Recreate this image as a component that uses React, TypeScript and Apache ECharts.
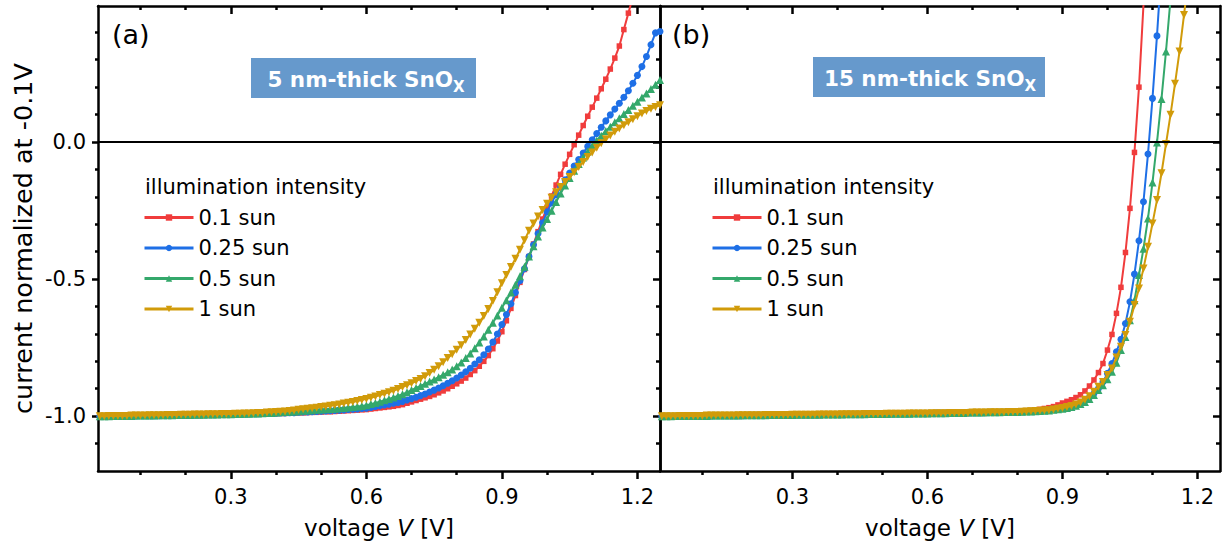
import React, { useEffect, useRef } from "react";
import * as echarts from "echarts";

// ---------- data ----------
const voltage = [
  0.01, 0.02, 0.03, 0.04, 0.05, 0.06, 0.07, 0.08, 0.09, 0.10,
  0.11, 0.12, 0.13, 0.14, 0.15, 0.16, 0.17, 0.18, 0.19, 0.20,
  0.21, 0.22, 0.23, 0.24, 0.25, 0.26, 0.27, 0.28, 0.29, 0.30,
  0.31, 0.32, 0.33, 0.34, 0.35, 0.36, 0.37, 0.38, 0.39, 0.40,
  0.41, 0.42, 0.43, 0.44, 0.45, 0.46, 0.47, 0.48, 0.49, 0.50,
  0.51, 0.52, 0.53, 0.54, 0.55, 0.56, 0.57, 0.58, 0.59, 0.60,
  0.61, 0.62, 0.63, 0.64, 0.65, 0.66, 0.67, 0.68, 0.69, 0.70,
  0.71, 0.72, 0.73, 0.74, 0.75, 0.76, 0.77, 0.78, 0.79, 0.80,
  0.81, 0.82, 0.83, 0.84, 0.85, 0.86, 0.87, 0.88, 0.89, 0.90,
  0.91, 0.92, 0.93, 0.94, 0.95, 0.96, 0.97, 0.98, 0.99, 1.00,
  1.01, 1.02, 1.03, 1.04, 1.05, 1.06, 1.07, 1.08, 1.09, 1.10,
  1.11, 1.12, 1.13, 1.14, 1.15, 1.16, 1.17, 1.18, 1.19, 1.20,
  1.21, 1.22, 1.23, 1.24, 1.25,
];

const seriesNames = ["0.1 sun", "0.25 sun", "0.5 sun", "1 sun"];

// panel (a): 5 nm-thick SnOx
const thin01 = [
  -1.000, -1.000, -1.000, -1.000, -0.999, -0.999, -0.999, -0.999, -0.999, -0.999,
  -0.999, -0.998, -0.998, -0.998, -0.998, -0.998, -0.998, -0.997, -0.997, -0.997,
  -0.997, -0.997, -0.996, -0.996, -0.996, -0.996, -0.995, -0.995, -0.995, -0.995,
  -0.994, -0.994, -0.994, -0.993, -0.993, -0.993, -0.992, -0.992, -0.991, -0.991,
  -0.990, -0.990, -0.989, -0.989, -0.988, -0.988, -0.987, -0.986, -0.986, -0.985,
  -0.984, -0.984, -0.983, -0.982, -0.981, -0.980, -0.979, -0.978, -0.977, -0.976,
  -0.974, -0.972, -0.970, -0.968, -0.966, -0.964, -0.961, -0.958, -0.953, -0.948,
  -0.943, -0.938, -0.933, -0.928, -0.922, -0.915, -0.908, -0.900, -0.891, -0.882,
  -0.872, -0.861, -0.848, -0.834, -0.818, -0.800, -0.779, -0.754, -0.726, -0.692,
  -0.652, -0.607, -0.560, -0.512, -0.465, -0.418, -0.372, -0.327, -0.281, -0.238,
  -0.197, -0.157, -0.118, -0.081, -0.045, -0.010, 0.025, 0.060, 0.094, 0.127,
  0.160, 0.194, 0.229, 0.266, 0.306, 0.350, 0.410, 0.470, 0.530, 0.590,
];
const thin025 = [
  -1.000, -1.000, -1.000, -0.999, -0.999, -0.999, -0.999, -0.999, -0.999, -0.998,
  -0.998, -0.998, -0.998, -0.998, -0.997, -0.997, -0.997, -0.997, -0.997, -0.996,
  -0.996, -0.996, -0.996, -0.995, -0.995, -0.995, -0.994, -0.994, -0.994, -0.993,
  -0.993, -0.993, -0.992, -0.992, -0.991, -0.991, -0.990, -0.990, -0.989, -0.989,
  -0.988, -0.988, -0.987, -0.987, -0.986, -0.985, -0.985, -0.984, -0.983, -0.982,
  -0.981, -0.980, -0.979, -0.978, -0.977, -0.976, -0.975, -0.974, -0.972, -0.971,
  -0.968, -0.965, -0.962, -0.959, -0.956, -0.953, -0.950, -0.946, -0.941, -0.936,
  -0.931, -0.925, -0.919, -0.912, -0.905, -0.897, -0.889, -0.880, -0.871, -0.861,
  -0.850, -0.838, -0.825, -0.810, -0.794, -0.776, -0.755, -0.730, -0.700, -0.666,
  -0.629, -0.590, -0.549, -0.506, -0.462, -0.418, -0.375, -0.334, -0.295, -0.255,
  -0.222, -0.192, -0.164, -0.138, -0.113, -0.088, -0.064, -0.040, -0.016, 0.008,
  0.031, 0.054, 0.077, 0.099, 0.120, 0.141, 0.163, 0.187, 0.214, 0.243,
  0.275, 0.312, 0.355, 0.398, 0.403,
];
const thin05 = [
  -1.000, -1.000, -1.000, -0.999, -0.999, -0.999, -0.999, -0.999, -0.998, -0.998,
  -0.998, -0.998, -0.998, -0.997, -0.997, -0.997, -0.997, -0.996, -0.996, -0.996,
  -0.996, -0.995, -0.995, -0.995, -0.994, -0.994, -0.994, -0.993, -0.993, -0.993,
  -0.992, -0.992, -0.991, -0.991, -0.990, -0.990, -0.989, -0.988, -0.988, -0.987,
  -0.986, -0.985, -0.984, -0.983, -0.982, -0.980, -0.979, -0.978, -0.977, -0.976,
  -0.975, -0.974, -0.973, -0.971, -0.970, -0.968, -0.967, -0.965, -0.963, -0.960,
  -0.956, -0.952, -0.947, -0.942, -0.937, -0.932, -0.926, -0.920, -0.913, -0.905,
  -0.897, -0.890, -0.882, -0.874, -0.866, -0.858, -0.849, -0.840, -0.830, -0.818,
  -0.804, -0.788, -0.771, -0.752, -0.731, -0.709, -0.685, -0.659, -0.633, -0.605,
  -0.577, -0.549, -0.521, -0.490, -0.455, -0.418, -0.380, -0.345, -0.312, -0.281,
  -0.251, -0.219, -0.188, -0.159, -0.131, -0.105, -0.080, -0.057, -0.035, -0.014,
  0.005, 0.023, 0.040, 0.056, 0.072, 0.087, 0.102, 0.117, 0.132, 0.147,
  0.162, 0.177, 0.193, 0.209, 0.226,
];
const thin1 = [
  -1.000, -1.000, -0.999, -0.999, -0.999, -0.999, -0.999, -0.998, -0.998, -0.998,
  -0.998, -0.997, -0.997, -0.997, -0.997, -0.996, -0.996, -0.996, -0.995, -0.995,
  -0.995, -0.994, -0.994, -0.994, -0.993, -0.993, -0.993, -0.992, -0.992, -0.992,
  -0.991, -0.991, -0.990, -0.990, -0.989, -0.988, -0.988, -0.987, -0.986, -0.985,
  -0.984, -0.983, -0.981, -0.979, -0.977, -0.975, -0.973, -0.971, -0.969, -0.967,
  -0.965, -0.962, -0.960, -0.957, -0.954, -0.951, -0.948, -0.945, -0.941, -0.937,
  -0.933, -0.928, -0.923, -0.918, -0.913, -0.907, -0.901, -0.894, -0.887, -0.880,
  -0.872, -0.864, -0.854, -0.843, -0.831, -0.818, -0.803, -0.788, -0.774, -0.758,
  -0.741, -0.722, -0.702, -0.681, -0.659, -0.635, -0.609, -0.580, -0.548, -0.515,
  -0.485, -0.456, -0.426, -0.393, -0.358, -0.324, -0.297, -0.272, -0.248, -0.225,
  -0.203, -0.183, -0.164, -0.146, -0.128, -0.110, -0.091, -0.073, -0.055, -0.038,
  -0.021, -0.005, 0.010, 0.024, 0.037, 0.049, 0.061, 0.072, 0.083, 0.094,
  0.104, 0.113, 0.121, 0.128, 0.134,
];

// panel (b): 15 nm-thick SnOx
const thick01 = [
  -1.000, -1.000, -1.000, -1.000, -1.000, -0.999, -0.999, -0.999, -0.999, -0.999,
  -0.999, -0.999, -0.999, -0.998, -0.998, -0.998, -0.998, -0.998, -0.998, -0.998,
  -0.997, -0.997, -0.997, -0.997, -0.997, -0.997, -0.996, -0.996, -0.996, -0.996,
  -0.996, -0.995, -0.995, -0.995, -0.995, -0.995, -0.995, -0.994, -0.994, -0.994,
  -0.994, -0.994, -0.994, -0.994, -0.993, -0.993, -0.993, -0.993, -0.993, -0.992,
  -0.992, -0.992, -0.992, -0.991, -0.991, -0.991, -0.991, -0.990, -0.990, -0.990,
  -0.990, -0.990, -0.989, -0.989, -0.989, -0.988, -0.988, -0.988, -0.987, -0.987,
  -0.987, -0.986, -0.986, -0.985, -0.985, -0.984, -0.984, -0.983, -0.983, -0.982,
  -0.981, -0.980, -0.979, -0.977, -0.975, -0.972, -0.969, -0.965, -0.959, -0.952,
  -0.946, -0.940, -0.932, -0.922, -0.908, -0.890, -0.868, -0.841, -0.808, -0.759,
  -0.702, -0.625, -0.530, -0.403, -0.242, -0.038, 0.200, 0.500,
];
const thick025 = [
  -1.000, -1.000, -1.000, -1.000, -0.999, -0.999, -0.999, -0.999, -0.999, -0.999,
  -0.999, -0.999, -0.998, -0.998, -0.998, -0.998, -0.998, -0.998, -0.998, -0.997,
  -0.997, -0.997, -0.997, -0.997, -0.997, -0.996, -0.996, -0.996, -0.996, -0.996,
  -0.996, -0.995, -0.995, -0.995, -0.995, -0.995, -0.994, -0.994, -0.994, -0.994,
  -0.994, -0.994, -0.993, -0.993, -0.993, -0.993, -0.993, -0.992, -0.992, -0.992,
  -0.992, -0.992, -0.991, -0.991, -0.991, -0.991, -0.990, -0.990, -0.990, -0.990,
  -0.990, -0.989, -0.989, -0.989, -0.989, -0.988, -0.988, -0.988, -0.988, -0.987,
  -0.987, -0.987, -0.987, -0.986, -0.986, -0.986, -0.986, -0.985, -0.985, -0.985,
  -0.984, -0.983, -0.982, -0.981, -0.980, -0.979, -0.977, -0.975, -0.973, -0.970,
  -0.967, -0.963, -0.958, -0.951, -0.942, -0.931, -0.917, -0.899, -0.875, -0.844,
  -0.808, -0.765, -0.720, -0.662, -0.583, -0.482, -0.360, -0.218, -0.044, 0.159,
  0.387, 0.640,
];
const thick05 = [
  -1.000, -1.000, -1.000, -0.999, -0.999, -0.999, -0.999, -0.999, -0.999, -0.999,
  -0.999, -0.998, -0.998, -0.998, -0.998, -0.998, -0.998, -0.998, -0.997, -0.997,
  -0.997, -0.997, -0.997, -0.997, -0.996, -0.996, -0.996, -0.996, -0.996, -0.996,
  -0.995, -0.995, -0.995, -0.995, -0.995, -0.995, -0.994, -0.994, -0.994, -0.994,
  -0.994, -0.993, -0.993, -0.993, -0.993, -0.993, -0.992, -0.992, -0.992, -0.992,
  -0.992, -0.991, -0.991, -0.991, -0.991, -0.991, -0.990, -0.990, -0.990, -0.990,
  -0.989, -0.989, -0.989, -0.989, -0.988, -0.988, -0.988, -0.988, -0.987, -0.987,
  -0.987, -0.987, -0.986, -0.986, -0.986, -0.986, -0.985, -0.985, -0.985, -0.985,
  -0.984, -0.983, -0.983, -0.982, -0.981, -0.980, -0.979, -0.977, -0.975, -0.973,
  -0.970, -0.967, -0.962, -0.956, -0.948, -0.937, -0.923, -0.905, -0.887, -0.865,
  -0.838, -0.805, -0.759, -0.711, -0.650, -0.577, -0.485, -0.389, -0.279, -0.148,
  -0.002, 0.157, 0.330, 0.520, 0.720,
];
const thick1 = [
  -1.000, -1.000, -1.000, -1.000, -0.999, -0.999, -0.999, -0.999, -0.999, -0.999,
  -0.998, -0.998, -0.998, -0.998, -0.998, -0.998, -0.998, -0.997, -0.997, -0.997,
  -0.997, -0.997, -0.997, -0.996, -0.996, -0.996, -0.996, -0.996, -0.996, -0.995,
  -0.995, -0.995, -0.995, -0.995, -0.995, -0.994, -0.994, -0.994, -0.994, -0.994,
  -0.993, -0.993, -0.993, -0.993, -0.993, -0.992, -0.992, -0.992, -0.992, -0.992,
  -0.991, -0.991, -0.991, -0.991, -0.991, -0.990, -0.990, -0.990, -0.990, -0.990,
  -0.989, -0.989, -0.989, -0.989, -0.988, -0.988, -0.988, -0.988, -0.988, -0.987,
  -0.987, -0.987, -0.987, -0.986, -0.986, -0.986, -0.986, -0.985, -0.985, -0.985,
  -0.984, -0.983, -0.982, -0.981, -0.980, -0.979, -0.978, -0.976, -0.973, -0.970,
  -0.967, -0.963, -0.957, -0.950, -0.940, -0.927, -0.911, -0.893, -0.875, -0.850,
  -0.826, -0.786, -0.747, -0.704, -0.656, -0.595, -0.534, -0.461, -0.382, -0.297,
  -0.212, -0.114, -0.007, 0.099, 0.212, 0.330, 0.463, 0.600,
];

const xMajorTicks = [0.3, 0.6, 0.9, 1.2];
const xMinorTicks = [0.1, 0.2, 0.4, 0.5, 0.7, 0.8, 1.0, 1.1];
const yMajorTicks = [-1.0, -0.5, 0.0];
const yMinorTicks = [-1.1, -0.9, -0.8, -0.7, -0.6, -0.4, -0.3, -0.2, -0.1, 0.1, 0.2, 0.3, 0.4];

const panelTitles = ["5 nm-thick SnO", "15 nm-thick SnO"];
const panelLetters = ["(a)", "(b)"];
const legendTitle = "illumination intensity";

// ---------- style ----------
const FONT = "DejaVu Sans";
const colors = ["#F03C3C", "#1E6FE6", "#34A86B", "#D19B0A"];
const symbols = ["rect", "circle", "triangle", "triangle"];
const symbolRotates = [0, 0, 0, 180];
const symbolSizes = [5.5, 7, 8, 8];
const X_MIN = 0.006;
const X_MAX = 1.25;
const Y_MIN = -1.2;
const Y_MAX = 0.496;
const BLACK = "#000";
const FRAME_W = 2.5;

const fmt = (v: number) => v.toFixed(1);

function tick(inside: boolean, len: number, vals: number[]) {
  return {
    show: true,
    inside,
    length: len,
    customValues: vals,
    lineStyle: { color: BLACK, width: FRAME_W },
  };
}
const frameLine = { show: true, onZero: false, lineStyle: { color: BLACK, width: FRAME_W } };
const noLine = { show: false, onZero: false };

function makeXAxes(grid: number) {
  const base: any = {
    type: "value",
    gridIndex: grid,
    min: X_MIN,
    max: X_MAX,
    splitLine: { show: false },
  };
  return [
    {
      ...base,
      position: "bottom",
      axisLine: frameLine,
      axisTick: tick(false, 8, xMajorTicks),
      axisLabel: {
        show: true,
        customValues: xMajorTicks,
        formatter: fmt,
        fontSize: 21,
        fontFamily: FONT,
        color: BLACK,
        margin: 15,
      },
      name: "voltage {i|V} [V]",
      nameLocation: "middle",
      nameGap: 45,
      nameTextStyle: {
        fontSize: 23,
        fontFamily: FONT,
        color: BLACK,
        rich: { i: { fontSize: 23, fontFamily: FONT, fontStyle: "italic", color: BLACK } },
      },
    },
    { ...base, position: "bottom", axisLine: noLine, axisTick: tick(false, 4, xMinorTicks), axisLabel: { show: false } },
    { ...base, position: "top", axisLine: frameLine, axisTick: tick(true, 8, xMajorTicks), axisLabel: { show: false } },
    { ...base, position: "top", axisLine: noLine, axisTick: tick(true, 4, xMinorTicks), axisLabel: { show: false } },
  ];
}

function makeYAxes(grid: number, first: boolean) {
  const base: any = {
    type: "value",
    gridIndex: grid,
    min: Y_MIN,
    max: Y_MAX,
    splitLine: { show: false },
  };
  const left = first
    ? [
        {
          ...base,
          position: "left",
          axisLine: frameLine,
          axisTick: tick(false, 6, yMajorTicks),
          axisLabel: {
            show: true,
            customValues: yMajorTicks,
            formatter: fmt,
            fontSize: 21,
            fontFamily: FONT,
            color: BLACK,
            margin: 12,
          },
          name: "current normalized at -0.1V",
          nameLocation: "middle",
          nameGap: 62,
          nameTextStyle: { fontSize: 25.5, fontFamily: FONT, color: BLACK },
        },
        { ...base, position: "left", axisLine: noLine, axisTick: tick(false, 3, yMinorTicks), axisLabel: { show: false } },
      ]
    : [
        { ...base, position: "left", axisLine: frameLine, axisTick: { show: false }, axisLabel: { show: false } },
      ];
  return [
    ...left,
    { ...base, position: "right", axisLine: frameLine, axisTick: tick(true, 7, yMajorTicks), axisLabel: { show: false } },
    { ...base, position: "right", axisLine: noLine, axisTick: tick(true, 4, yMinorTicks), axisLabel: { show: false } },
  ];
}

function makeSeries(values: number[][], xIdx: number, yIdx: number) {
  return values.map((vals, k) => {
    const s: any = {
      type: "line",
      name: seriesNames[k],
      xAxisIndex: xIdx,
      yAxisIndex: yIdx,
      data: vals.map((y, i) => [voltage[i], y]),
      symbol: symbols[k],
      symbolSize: symbolSizes[k],
      symbolRotate: symbolRotates[k],
      showSymbol: true,
      showAllSymbol: true,
      clip: true,
      lineStyle: { color: colors[k], width: 2 },
      itemStyle: { color: colors[k], borderWidth: 0 },
      emphasis: { disabled: true },
      z: 2 + k,
    };
    if (k === 0) {
      s.markLine = {
        silent: true,
        symbol: ["none", "none"],
        label: { show: false },
        lineStyle: { color: BLACK, width: 2.2, type: "solid" },
        emphasis: { disabled: true },
        data: [{ yAxis: 0 }],
        z: 10,
      };
    }
    return s;
  });
}

function titleGraphic(cx: number, rect: number[], title: string) {
  return [
    {
      type: "rect",
      shape: { x: rect[0], y: rect[1], width: rect[2], height: rect[3] },
      style: { fill: "#6699CC" },
      z: 20,
    },
    {
      type: "text",
      x: cx,
      y: rect[1] + rect[3] / 2 + 1,
      z: 21,
      style: {
        text: `{m|${title}}{s|X}`,
        align: "center",
        verticalAlign: "middle",
        rich: {
          m: { fontSize: 21.5, fontWeight: "bold", fontFamily: FONT, fill: "#fff", lineHeight: 30 },
          s: { fontSize: 15, fontWeight: "bold", fontFamily: FONT, fill: "#fff", lineHeight: 15, verticalAlign: "bottom" },
        },
      },
    },
  ];
}

export default function App() {
  const ref = useRef<HTMLDivElement>(null);
  useEffect(() => {
    if (!ref.current) return;
    const chart = echarts.init(ref.current, undefined, { renderer: "svg" });
    const xAxes = [...makeXAxes(0), ...makeXAxes(1)];
    const yA = makeYAxes(0, true);
    const yB = makeYAxes(1, false);
    const option: any = {
      animation: false,
      backgroundColor: "#fff",
      grid: [
        { left: 98, top: 6, width: 562, height: 465, containLabel: false },
        { left: 660, top: 6, width: 560, height: 465, containLabel: false },
      ],
      xAxis: xAxes,
      yAxis: [...yA, ...yB],
      legend: [143, 711].map((left) => ({
        data: seriesNames,
        orient: "vertical",
        left,
        top: 207,
        padding: 0,
        itemWidth: 49,
        itemHeight: 8,
        itemGap: 9.5,
        selectedMode: false,
        lineStyle: { width: 3 },
        textStyle: { fontSize: 21, fontFamily: FONT, color: BLACK, lineHeight: 21 },
      })),
      series: [
        ...makeSeries([thin01, thin025, thin05, thin1], 0, 0),
        ...makeSeries([thick01, thick025, thick05, thick1], 4, yA.length),
      ],
      graphic: [
        { type: "text", x: 112, y: 34, style: { text: panelLetters[0], fontSize: 27, fontFamily: FONT, fill: BLACK, verticalAlign: "middle" } },
        { type: "text", x: 672, y: 34, style: { text: panelLetters[1], fontSize: 27, fontFamily: FONT, fill: BLACK, verticalAlign: "middle" } },
        ...titleGraphic(366, [251, 58, 225, 40], panelTitles[0]),
        ...titleGraphic(930, [813, 57, 232, 40], panelTitles[1]),
        { type: "text", x: 145, y: 187, style: { text: legendTitle, fontSize: 21, fontFamily: FONT, fill: BLACK, verticalAlign: "middle" } },
        { type: "text", x: 713, y: 187, style: { text: legendTitle, fontSize: 21, fontFamily: FONT, fill: BLACK, verticalAlign: "middle" } },
      ],
    };
    chart.setOption(option);
    return () => chart.dispose();
  }, []);
  return (
    <div
      ref={ref}
      style={{ position: "fixed", left: 0, top: 0, width: 1225, height: 550, background: "#fff" }}
    />
  );
}
